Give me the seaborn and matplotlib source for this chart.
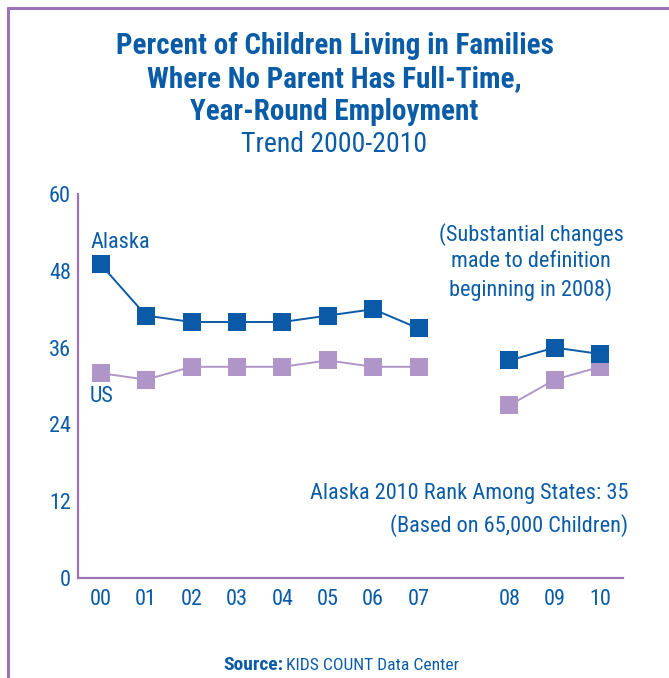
import numpy as np
import pandas as pd
import seaborn as sns
import matplotlib.pyplot as plt
from matplotlib.lines import Line2D
from matplotlib import font_manager

# data
years = ["00", "01", "02", "03", "04", "05", "06", "07", "08", "09", "10"]
alaska = [49, 41, 40, 40, 40, 41, 42, 39, 34, 36, 35]
us = [32, 31, 33, 33, 33, 34, 33, 33, 27, 31, 33]
# slot index on the axis (empty slot between 07 and 08)
slots = [0, 1, 2, 3, 4, 5, 6, 7, 9, 10, 11]
segment = [0, 0, 0, 0, 0, 0, 0, 0, 1, 1, 1]
y_ticks = [0, 12, 24, 36, 48, 60]

BLUE = "#0a5aa8"
LAV = "#b096c8"
PURPLE = "#9d72b8"
TXT = "#0b5ca6"

sns.set_theme(style="white")

# the original uses a condensed face; pick a narrow family that has a bold weight
fonts = font_manager.fontManager.ttflist
weights = {}
for f in fonts:
    if "Narrow" in f.name or "Condensed" in f.name:
        w = f.weight if isinstance(f.weight, int) else 400
        weights.setdefault(f.name, set()).add(w)
prefer = ["Liberation Sans Narrow", "Roboto Condensed", "Open Sans Condensed",
          "Noto Sans Condensed", "DejaVu Sans Condensed"]
good = [n for n in weights if max(weights[n]) >= 600 and min(weights[n]) <= 500]
good.sort(key=lambda n: prefer.index(n) if n in prefer else 99)
family = good[0] if good else "DejaVu Sans"
plt.rcParams["font.family"] = [family, "DejaVu Sans"]

df = pd.DataFrame({
    "slot": slots * 2,
    "value": alaska + us,
    "series": ["Alaska"] * len(years) + ["US"] * len(years),
    "segment": segment * 2,
})

fig = plt.figure(figsize=(6.69, 6.78), dpi=100)
ax = fig.add_axes([78 / 669, 1 - 578 / 678, 545 / 669, 384 / 678])

for name, col in [("US", LAV), ("Alaska", BLUE)]:
    sub = df[df["series"] == name]
    sns.lineplot(data=sub, x="slot", y="value", units="segment", estimator=None,
                 color=col, lw=1.4, marker="s", markersize=13, markeredgewidth=0,
                 ax=ax, legend=False)

ax.set_xlim(-0.5, 11.5)
ax.set_ylim(0, 60)
ax.set_xlabel("")
ax.set_ylabel("")

# tick marks at slot boundaries, labels at slot centres
ax.set_xticks(np.arange(0.5, 12, 1))
ax.set_xticklabels([])
ax.set_xticks(slots, minor=True)
ax.set_xticklabels(years, minor=True)
ax.tick_params(axis="x", which="major", direction="in", length=6.5, width=1.3,
               color=PURPLE)
ax.tick_params(axis="x", which="minor", length=0, pad=8, labelsize=16,
               labelcolor=TXT)
ax.set_yticks(y_ticks)
ax.tick_params(axis="y", direction="in", length=9.5, width=1.3, color=PURPLE,
               labelsize=16, labelcolor=TXT, pad=5)

for s in ["top", "right"]:
    ax.spines[s].set_visible(False)
for s in ["left", "bottom"]:
    ax.spines[s].set_color(PURPLE)
    ax.spines[s].set_linewidth(1.6)

# labels inside the chart
fig.text(90 / 669, 1 - 243 / 678, "Alaska", ha="left", va="center",
         fontsize=16, color=TXT)
fig.text(90 / 669, 1 - 397 / 678, "US", ha="left", va="center",
         fontsize=16, color=TXT)
fig.text(531 / 669, 1 - 262 / 678,
         "(Substantial changes\nmade to definition\nbeginning in 2008)",
         ha="center", va="center", fontsize=16, color=TXT, linespacing=1.33)
fig.text(628 / 669, 1 - 493 / 678, "Alaska 2010 Rank Among States: 35",
         ha="right", va="center", fontsize=16, color=TXT)
fig.text(628 / 669, 1 - 526 / 678, "(Based on 65,000 Children)",
         ha="right", va="center", fontsize=16, color=TXT)

# titles
fig.text(0.5, 1 - 79 / 678,
         "Percent of Children Living in Families\nWhere No Parent Has Full-Time,\nYear-Round Employment",
         ha="center", va="center", fontsize=21, fontweight="bold", color=TXT,
         linespacing=1.23)
fig.text(0.5, 1 - 145 / 678, "Trend 2000-2010", ha="center", va="center",
         fontsize=20, color=TXT)

# source line
fig.text(283 / 669, 1 - 665 / 678, "Source:", ha="right", va="center",
         fontsize=14, fontweight="bold", color=TXT)
fig.text(286 / 669, 1 - 665 / 678, "KIDS COUNT Data Center", ha="left",
         va="center", fontsize=12.6, color=TXT)

# purple frame at left and top
fig.add_artist(Line2D([8 / 669, 8 / 669], [0, 1 - 8 / 678], color=PURPLE,
                      lw=2.2, transform=fig.transFigure))
fig.add_artist(Line2D([8 / 669, 1], [1 - 8 / 678, 1 - 8 / 678], color=PURPLE,
                      lw=2.2, transform=fig.transFigure))

fig.savefig("out.png", dpi=100)
